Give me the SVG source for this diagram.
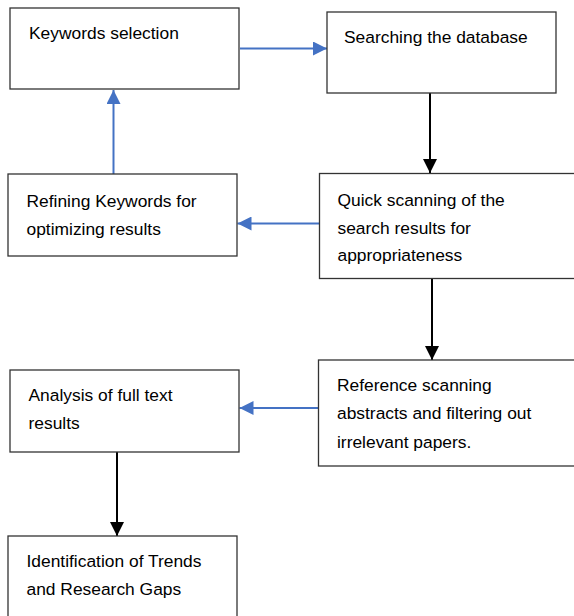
<svg xmlns="http://www.w3.org/2000/svg" width="574" height="616" viewBox="0 0 574 616">
<style>
.box{fill:#fff;stroke:#333;stroke-width:1.3}
.t{font-family:"Liberation Sans",Arial,sans-serif;font-size:17.4px;fill:#000}
.blue{stroke:#4472C4;stroke-width:2;fill:none}
.blk{stroke:#000;stroke-width:2;fill:none}
</style>
<defs>
<marker id="hb" viewBox="0 0 10 10" refX="10" refY="5" markerUnits="userSpaceOnUse" markerWidth="15" markerHeight="14" orient="auto"><path d="M0,0 L10,5 L0,10 z" fill="#4472C4"/></marker>
<marker id="hk" viewBox="0 0 10 10" refX="10" refY="5" markerUnits="userSpaceOnUse" markerWidth="16" markerHeight="14" orient="auto"><path d="M0,0 L10,5 L0,10 z" fill="#000"/></marker>
</defs>
<rect width="574" height="616" fill="#fff"/>
<g id="connectors">
<line class="blue" x1="240" y1="48.5" x2="327" y2="48.5" marker-end="url(#hb)"/>
<line class="blk" x1="430" y1="90" x2="430" y2="173" marker-end="url(#hk)"/>
<line class="blue" x1="319" y1="223.5" x2="237.5" y2="223.5" marker-end="url(#hb)"/>
<line class="blue" x1="113.5" y1="174" x2="113.5" y2="90" marker-end="url(#hb)"/>
<line class="blk" x1="432" y1="278" x2="432" y2="360" marker-end="url(#hk)"/>
<line class="blue" x1="320" y1="408" x2="239.5" y2="408" marker-end="url(#hb)"/>
<line class="blk" x1="117" y1="452" x2="117" y2="536" marker-end="url(#hk)"/>
</g>
<g id="n1"><rect class="box" x="10" y="8" width="229" height="81"/><text class="t" x="29" y="39">Keywords selection</text></g>
<g id="n2"><rect class="box" x="327" y="12" width="229" height="81"/><text class="t" x="344" y="43">Searching the database</text></g>
<g id="n3"><rect class="box" x="319.5" y="173.5" width="270" height="105"/><text class="t" x="337.5" y="206">Quick scanning of the</text><text class="t" x="337.5" y="234">search results for</text><text class="t" x="337.5" y="261">appropriateness</text></g>
<g id="n4"><rect class="box" x="8" y="174" width="229" height="82"/><text class="t" x="26.5" y="207">Refining Keywords for</text><text class="t" x="26.5" y="235">optimizing results</text></g>
<g id="n5"><rect class="box" x="318.5" y="360" width="270" height="106"/><text class="t" x="337" y="391">Reference scanning</text><text class="t" x="337" y="419">abstracts and filtering out</text><text class="t" x="337" y="448">irrelevant papers.</text></g>
<g id="n6"><rect class="box" x="10" y="370" width="229" height="82"/><text class="t" x="28.5" y="401">Analysis of full text</text><text class="t" x="28.5" y="429">results</text></g>
<g id="n7"><rect class="box" x="8" y="536" width="229" height="100"/><text class="t" x="26.5" y="567">Identification of Trends</text><text class="t" x="26.5" y="595">and Research Gaps</text></g>
</svg>
